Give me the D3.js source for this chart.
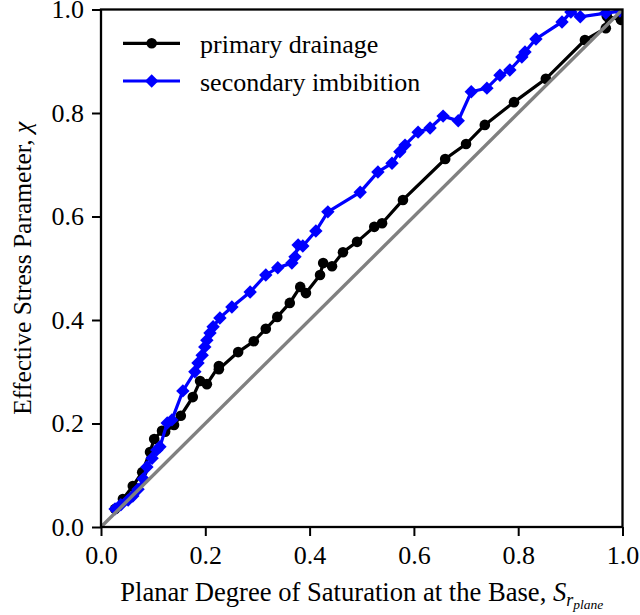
<!DOCTYPE html>
<html>
<head>
<meta charset="utf-8">
<script src="https://cdn.jsdelivr.net/npm/d3@7"></script>
<style>
body{margin:0;background:#fff}
svg text{font-family:"Liberation Serif","Times New Roman",serif;fill:#000}
</style>
</head>
<body>
<div id="chart"></div>
<script>
// primary drainage (black, circles)
let drainX=[0.027,0.042,0.061,0.079,0.094,0.102,0.117,0.123,0.140,0.153,0.176,0.190,0.203,0.226,0.226,0.263,0.293,0.316,0.338,0.362,0.382,0.393,0.420,0.426,0.443,0.464,0.491,0.524,0.539,0.579,0.660,0.700,0.736,0.792,0.853,0.928,0.968,0.970,0.997]
let drainY=[0.035,0.054,0.079,0.106,0.145,0.170,0.186,0.184,0.197,0.215,0.251,0.282,0.276,0.311,0.305,0.338,0.359,0.383,0.406,0.433,0.464,0.452,0.487,0.510,0.504,0.531,0.551,0.580,0.587,0.632,0.711,0.740,0.777,0.821,0.866,0.941,0.964,0.987,0.980]
// secondary imbibition (blue, diamonds)
let imbX=[0.027,0.038,0.052,0.061,0.071,0.081,0.088,0.098,0.107,0.113,0.127,0.136,0.157,0.180,0.186,0.194,0.199,0.203,0.209,0.215,0.228,0.251,0.286,0.316,0.339,0.366,0.372,0.378,0.387,0.412,0.435,0.497,0.531,0.558,0.573,0.583,0.608,0.631,0.656,0.685,0.710,0.740,0.765,0.784,0.807,0.813,0.834,0.884,0.901,0.919,0.968,0.995]
let imbY=[0.035,0.043,0.052,0.060,0.073,0.093,0.116,0.133,0.149,0.155,0.201,0.207,0.263,0.300,0.317,0.332,0.348,0.361,0.375,0.387,0.404,0.425,0.454,0.487,0.501,0.510,0.522,0.545,0.543,0.572,0.609,0.647,0.686,0.703,0.725,0.738,0.763,0.771,0.794,0.785,0.841,0.848,0.873,0.883,0.908,0.918,0.943,0.976,0.995,0.986,0.993,0.997]
let ticks=[0.0,0.2,0.4,0.6,0.8,1.0]
let legendNames=["primary drainage","secondary imbibition"]

let width=640, height=615
let mLeft=101, mRight=622.5, mTop=9.5, mBottom=527

let svg=d3.select("#chart").append("svg").attr("width",width).attr("height",height)

let xScale=d3.scaleLinear().domain([0,1]).range([mLeft,mRight])
let yScale=d3.scaleLinear().domain([0,1]).range([mBottom,mTop])

svg.append("clipPath").attr("id","clip").append("rect")
  .attr("x",mLeft).attr("y",mTop).attr("width",mRight-mLeft).attr("height",mBottom-mTop)

let plot=svg.append("g").attr("clip-path","url(#clip)")
let line=d3.line().x(d=>xScale(d[0])).y(d=>yScale(d[1]))

let drain=drainX.map((x,i)=>[x,drainY[i]])
let imb=imbX.map((x,i)=>[x,imbY[i]])

// black series
plot.append("path").datum(drain).attr("d",line).attr("fill","none").attr("stroke","#000").attr("stroke-width",3.2)
plot.selectAll(".dot").data(drain).enter().append("circle").attr("class","dot")
  .attr("cx",d=>xScale(d[0])).attr("cy",d=>yScale(d[1])).attr("r",5.3).attr("fill","#000")

// blue series
plot.append("path").datum(imb).attr("d",line).attr("fill","none").attr("stroke","#0000ff").attr("stroke-width",3.2)
let diamond=d3.symbol().type(d3.symbolSquare).size(90)
plot.selectAll(".dia").data(imb).enter().append("path").attr("class","dia")
  .attr("d",diamond).attr("fill","#0000ff")
  .attr("transform",d=>"translate("+xScale(d[0])+","+yScale(d[1])+") rotate(45)")

// 1:1 line
plot.append("path").datum([[0,0],[1,1]]).attr("d",line).attr("stroke","#808080").attr("stroke-width",3.4)

// axes
let axisX=d3.axisBottom(xScale).tickValues(ticks).tickFormat(d3.format(".1f")).tickSize(9).tickPadding(10)
let axisY=d3.axisLeft(yScale).tickValues(ticks).tickFormat(d3.format(".1f")).tickSize(9).tickPadding(8)
let gx=svg.append("g").attr("transform","translate(0,"+mBottom+")").call(axisX)
let gy=svg.append("g").attr("transform","translate("+mLeft+",0)").call(axisY)
;[gx,gy].forEach(g=>{
  g.select(".domain").remove()
  g.selectAll(".tick line").attr("stroke","#000").attr("stroke-width",2)
  g.selectAll(".tick text").attr("font-size",26).attr("font-family","Liberation Serif").attr("fill","#000")
})
svg.append("rect").attr("x",mLeft).attr("y",mTop).attr("width",mRight-mLeft).attr("height",mBottom-mTop)
  .attr("fill","none").attr("stroke","#000").attr("stroke-width",2.3)

// axis labels
let xl=svg.append("text").attr("x",(mLeft+mRight)/2).attr("y",601).attr("text-anchor","middle").attr("font-size",26.6)
xl.append("tspan").text("Planar Degree of Saturation at the Base, ")
xl.append("tspan").attr("font-style","italic").text("S")
xl.append("tspan").attr("font-style","italic").attr("font-size",18).attr("dy",5).text("r")
xl.append("tspan").attr("font-style","italic").attr("font-size",13.5).attr("dy",3).text("plane")

let yl=svg.append("text").attr("transform","translate(31,"+((mTop+mBottom)/2)+") rotate(-90)")
  .attr("text-anchor","middle").attr("font-size",25.5)
yl.append("tspan").text("Effective Stress Parameter, ")
yl.append("tspan").attr("font-style","italic").text("χ")

// legend
let legend=svg.append("g").attr("id","legend")
let ly=[43.3,81]
legend.append("line").attr("x1",123).attr("x2",180).attr("y1",ly[0]).attr("y2",ly[0]).attr("stroke","#000").attr("stroke-width",3.2)
legend.append("circle").attr("cx",151.7).attr("cy",ly[0]).attr("r",5.3).attr("fill","#000")
legend.append("line").attr("x1",123).attr("x2",180).attr("y1",ly[1]).attr("y2",ly[1]).attr("stroke","#0000ff").attr("stroke-width",3.2)
legend.append("path").attr("d",diamond).attr("fill","#0000ff").attr("transform","translate(151.7,"+ly[1]+") rotate(45)")
legendNames.forEach((n,i)=>{
  legend.append("text").attr("x",200).attr("y",ly[i]+9.5).attr("font-size",26).text(n)
})
</script>
</body>
</html>
